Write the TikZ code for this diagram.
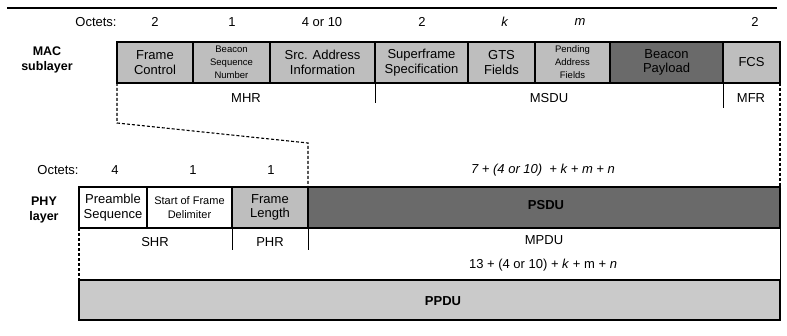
\documentclass[tikz,border=0pt]{standalone}
\usepackage{fontspec}
\setmainfont{Liberation Sans}
\usetikzlibrary{positioning}
\definecolor{FieldGray}{HTML}{BEBEBE}
\definecolor{DarkField}{HTML}{6A6A6A}
\definecolor{PpduGray}{HTML}{CACACA}

\begin{document}
\begin{tikzpicture}[
        x=1pt, y=-1pt,
        font=\fontsize{13}{14.5}\selectfont,
        field/.style={draw, line width=1.2pt, anchor=north west, inner sep=0pt, outer sep=0pt, minimum height=41pt, align=center},
        tiny/.style={font=\fontsize{9.5}{13}\selectfont},
        midf/.style={font=\fontsize{11}{14}\selectfont},
        sep/.style={line width=1pt},
        zoomln/.style={line width=1.1pt, dash pattern=on 3pt off 2pt},
        lbl/.style={font=\fontsize{12.5}{15}\selectfont\bfseries, align=center},
        bold/.style={font=\fontsize{13}{14}\selectfont\bfseries},
      ]
        \useasboundingbox (0,0) rectangle (787,336);
        % ---- top rule ----
        \coordinate (ra) at (7,8); \coordinate (rb) at (777,8);
        \draw[line width=1.6pt] (ra) -- (rb);
        % ---- MAC sublayer: octets ----
        \node (mo) at (96,22) {Octets:};
        \foreach \x/\t [count=\i] in {155/2, 232/1, 322/4 or 10, 422/2, 505/\textit{k}, 580/\textit{m}, 755/2}
          {\node (mo\i) at (\x,22) {\t};}
        % ---- MAC sublayer: fields ----
        \node[lbl] (mac) at (47,60) {MAC\\sublayer};
        \node[field, fill=FieldGray, minimum width=76pt] (fc) at (117,42) {Frame\\Control};
        \node[field, fill=FieldGray, minimum width=77pt, tiny] (bsn) at (fc.north east) {Beacon\\Sequence\\Number};
        \node[field, fill=FieldGray, minimum width=105pt] (src) at (bsn.north east) {Src. Address\\Information};
        \node[field, fill=FieldGray, minimum width=93pt] (sfs) at (src.north east) {Superframe\\Specification};
        \node[field, fill=FieldGray, minimum width=67pt] (gts) at (sfs.north east) {GTS\\Fields};
        \node[field, fill=FieldGray, minimum width=75pt, tiny] (pend) at (gts.north east) {Pending\\Address\\Fields};
        \node[field, fill=DarkField, minimum width=113pt] (pay) at (pend.north east) {Beacon\\Payload};
        \node[field, fill=FieldGray, minimum width=57pt] (fcs) at (pay.north east) {FCS};
        % ---- MHR / MSDU / MFR ----
        \node (mhr) at (246,98) {MHR};
        \node (msdu) at (549,98) {MSDU};
        \node (mfr) at (751,98) {MFR};
        \draw[sep] (sfs.south west) -- ++(0,20);
        \draw[sep] (fcs.south west) -- ++(0,25);
        % ---- PHY layer: octets ----
        \node (po) at (58,170) {Octets:};
        \foreach \x/\t [count=\i] in {115/4, 193/1, 271/1}
          {\node (po\i) at (\x,170) {\t};}
        \node (plen) at (543,170) {\itshape 7 + (4 or 10) \ + k + m + n};
        % ---- PHY layer: fields ----
        \node[lbl] (phy) at (44,210) {PHY\\layer};
        \node[field, minimum width=68pt] (pre) at (79,187) {Preamble\\Sequence};
        \node[field, minimum width=85pt, midf] (sfd) at (pre.north east) {Start of Frame\\Delimiter};
        \node[field, fill=FieldGray, minimum width=76pt] (len) at (sfd.north east) {Frame\\Length};
        \node[field, fill=DarkField, minimum width=472pt] (psdu) at (len.north east) {};
        \node[bold] (psdut) at (546,205) {PSDU};
        % ---- SHR / PHR / MPDU ----
        \node (shr) at (155,242) {SHR};
        \node (phr) at (270,242) {PHR};
        \node (mpdu) at (544,240) {MPDU};
        \node (mlen) at (543,265) {13 + (4 or 10) + \textit{k} + m + \textit{n}};
        \draw[sep] (len.south west) -- ++(0,22);
        \draw[sep] (len.south east) -- ++(0,22);
        % ---- PPDU ----
        \node[field, fill=PpduGray, minimum width=701pt, minimum height=40pt] (ppdu) at (79,280) {};
        \node[bold] (ppdut) at (443,301) {PPDU};
        \draw[zoomln] (pre.south west) -- (ppdu.north west);
        \draw[sep] (psdu.south east) -- (ppdu.north east);
        % ---- zoom lines MAC -> PHY ----
        \coordinate (zk) at (117,123); \coordinate (zb) at (308,143);
        \draw[zoomln] (fc.south west) -- (zk) -- (zb) -- (len.north east);
        \draw[zoomln] (fcs.south east) -- (psdu.north east);
      \end{tikzpicture}
\end{document}
